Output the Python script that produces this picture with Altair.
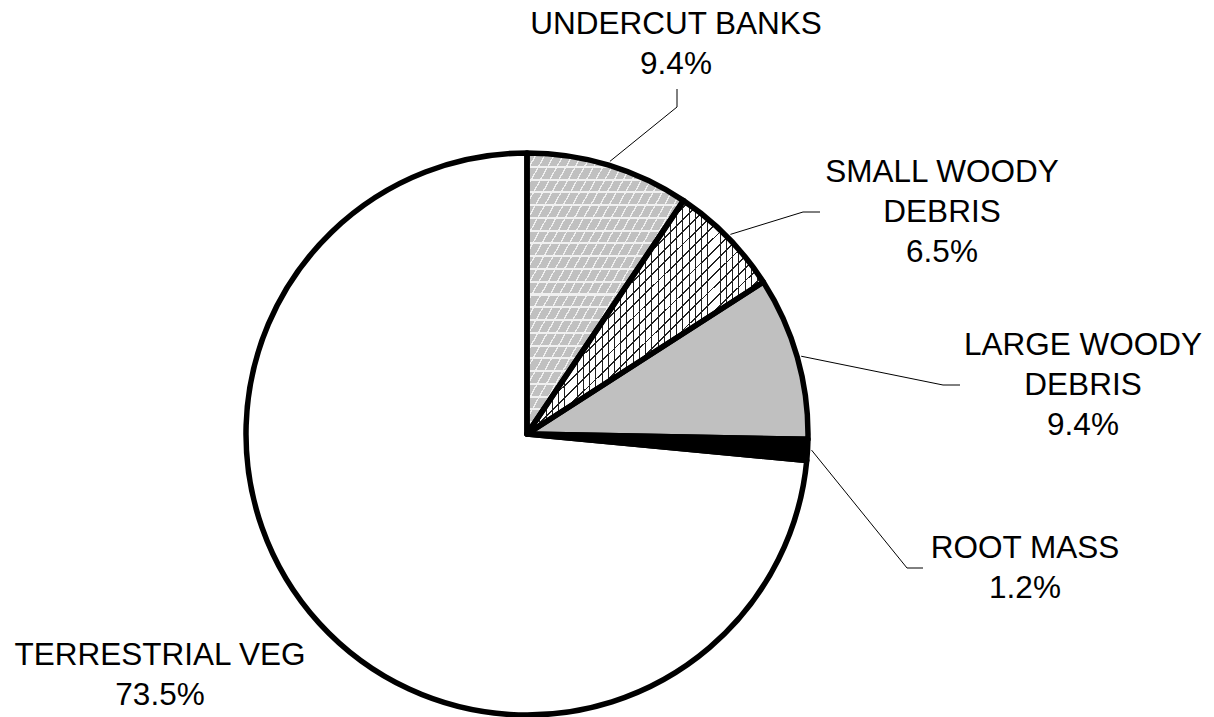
import math
import altair as alt
import pandas as pd

# ---- data ----
categories = ["UNDERCUT BANKS", "SMALL WOODY DEBRIS", "LARGE WOODY DEBRIS", "ROOT MASS", "TERRESTRIAL VEG"]
values = [9.4, 6.5, 9.4, 1.2, 73.5]
label_lines = [["UNDERCUT BANKS"], ["SMALL WOODY", "DEBRIS"], ["LARGE WOODY", "DEBRIS"], ["ROOT MASS"], ["TERRESTRIAL VEG"]]
base_fills = ["#c0c0c0", "#ffffff", "#c0c0c0", "#000000", "#ffffff"]

# ---- layout (pixels) ----
W, H = 1214, 717
CX, CY, R = 527, 434, 281
label_x = [676, 942, 1083, 1025, 160]
label_y0 = [34, 182, 355, 558, 665]
LINE_PITCH = 40
elbow_x = [677, 803, 943, 907, None]
elbow_y = [107, 212, 385, 568, None]
end_x = [677, 820, 960, 923, None]
end_y = [89, 212, 385, 568, None]

# slices
starts, ends = [], []
acc = 0.0
for v in values:
    starts.append(acc)
    acc += v
    ends.append(acc)
slices = pd.DataFrame({"cat": categories, "value": values, "start": starts, "end": ends,
                       "idx": list(range(len(categories)))})

# labels
lab_rows = []
for i, lines in enumerate(label_lines):
    all_lines = lines + [f"{values[i]:.1f}%"]
    for j, t in enumerate(all_lines):
        lab_rows.append({"x": label_x[i], "y": label_y0[i] + j * LINE_PITCH, "text": t})
labels = pd.DataFrame(lab_rows)

# leader lines: start on the rim at each slice's mid angle
lead_rows = []
for i in range(len(categories)):
    if elbow_x[i] is None:
        continue
    mid = (starts[i] + ends[i]) / 2 / 100 * 2 * math.pi
    sx = CX + (R + 4) * math.sin(mid)
    sy = CY - (R + 4) * math.cos(mid)
    lead_rows += [
        {"cat": categories[i], "o": 0, "x": sx, "y": sy},
        {"cat": categories[i], "o": 1, "x": elbow_x[i], "y": elbow_y[i]},
        {"cat": categories[i], "o": 2, "x": end_x[i], "y": end_y[i]},
    ]
leaders = pd.DataFrame(lead_rows)

xs = alt.Scale(domain=[0, W], range=[0, W])
ys = alt.Scale(domain=[0, H], range=[0, H])
ts = alt.Scale(domain=[0, 100], range=[0, 2 * math.pi])


def stripes(base, line, n, w, x2, y2):
    stops = [{"offset": 0, "color": base}]
    for k in range(n):
        a = k / n
        b = a + w / n
        stops += [{"offset": a, "color": base}, {"offset": a, "color": line},
                  {"offset": b, "color": line}, {"offset": b, "color": base}]
    stops.append({"offset": 1, "color": base})
    return {"gradient": "linear", "x1": 0, "y1": 0, "x2": x2, "y2": y2, "stops": stops}


def arc_layer(data, **mark):
    return alt.Chart(data).mark_arc(radius=R, **mark).encode(
        theta=alt.Theta("start:Q", scale=ts),
        theta2="end:Q",
        x=alt.value(CX),
        y=alt.value(CY),
    )


base = alt.Chart(slices).mark_arc(radius=R, strokeWidth=0).encode(
    theta=alt.Theta("start:Q", scale=ts),
    theta2="end:Q",
    x=alt.value(CX),
    y=alt.value(CY),
    fill=alt.Fill("cat:N", scale=alt.Scale(domain=categories, range=base_fills), legend=None),
)

s0 = slices[slices.idx == 0]
s1 = slices[slices.idx == 1]
tr = "rgba(0,0,0,0)"
pat = [
    arc_layer(s0, fill=stripes("#c0c0c0", "#f0f0f0", 34, 0.16, 1, 1)),
    arc_layer(s0, fill=stripes(tr, "#f0f0f0", 22, 0.16, 0, 1)),
    arc_layer(s1, fill=stripes("#ffffff", "#202020", 38, 0.15, 1, 1)),
    arc_layer(s1, fill=stripes(tr, "#202020", 38, 0.15, 1, 0)),
]

outline = alt.Chart(slices).mark_arc(radius=R, filled=False, stroke="black",
                                     strokeWidth=5.5, strokeJoin="round").encode(
    theta=alt.Theta("start:Q", scale=ts),
    theta2="end:Q",
    x=alt.value(CX),
    y=alt.value(CY),
)

lead = alt.Chart(leaders).mark_line(color="black", strokeWidth=1).encode(
    x=alt.X("x:Q", scale=xs, axis=None),
    y=alt.Y("y:Q", scale=ys, axis=None),
    detail="cat:N",
    order="o:Q",
)

text = alt.Chart(labels).mark_text(font="Liberation Sans", fontSize=31.5, align="center",
                                   baseline="alphabetic", color="black").encode(
    x=alt.X("x:Q", scale=xs, axis=None),
    y=alt.Y("y:Q", scale=ys, axis=None),
    text="text:N",
)

chart = alt.layer(base, *pat, outline, lead, text).properties(
    width=W, height=H, padding=0, autosize=alt.AutoSizeParams(type="none"), background="white"
).configure_view(stroke=None)

chart.save("out.html", embed_options={"renderer": "svg", "actions": False})
